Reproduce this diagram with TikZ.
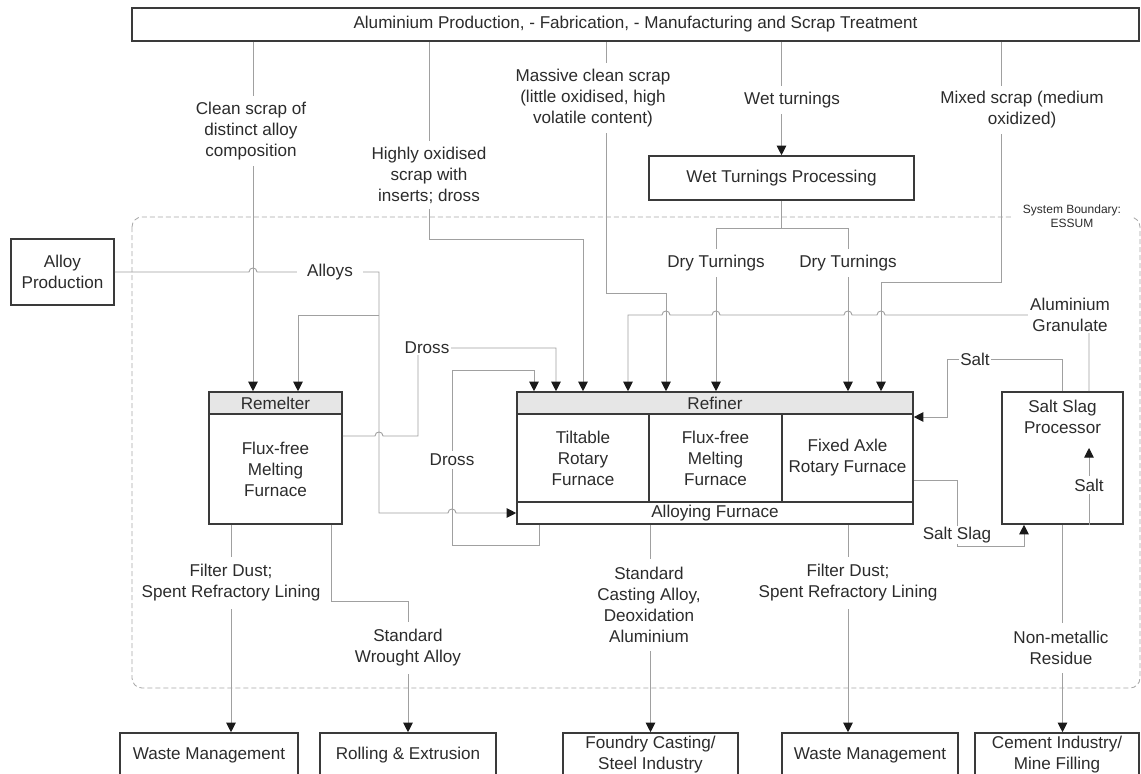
\documentclass[tikz,border=0pt]{standalone}
\usepackage{fontspec}
\setmainfont{Liberation Sans}
\usetikzlibrary{arrows.meta}

\definecolor{txt}{HTML}{2C2C2C}
\definecolor{edgec}{HTML}{3A3A3A}
\definecolor{wirec}{HTML}{A0A0A0}
\definecolor{tipc}{HTML}{1A1A1A}
\definecolor{headfill}{HTML}{E6E6E6}
\definecolor{boundc}{HTML}{A8A8A8}

% line jump over a crossing vertical line (rightwards / leftwards travel)
\newcommand\hopR[2]{-- ({#1-4},{#2}) .. controls ({#1-4},{#2-5.3}) and ({#1+4},{#2-5.3}) .. ({#1+4},{#2})}
\newcommand\hopL[2]{-- ({#1+4},{#2}) .. controls ({#1+4},{#2-5.3}) and ({#1-4},{#2-5.3}) .. ({#1-4},{#2})}

\begin{document}
\begin{tikzpicture}[x=1pt,y=-1pt,
  font=\fontsize{17.1}{21}\selectfont, text=txt,
  box/.style={draw=edgec, line width=1.6pt, fill=white, inner sep=0pt, align=center},
  headbox/.style={box, fill=headfill},
  wire/.style={draw=wirec, line width=0.9pt},
  arr/.style={wire, -{Triangle[length=9.5pt,width=9.5pt,color=tipc]}},
  tag/.style={fill=white, inner xsep=2pt, inner ysep=6pt, align=center},
]
\useasboundingbox (0,0) rectangle (1141,774);
\fill[white] (0,0) rectangle (1141,774);

% system boundary
\draw[boundc, line width=0.85pt, dash pattern=on 5pt off 3pt, rounded corners=10pt]
  (132,217) rectangle (1140,688);

% ---------- boxes ----------
\node[box, minimum width=1007pt, minimum height=33pt] (top) at (635.5,24.5)
  {Aluminium Production, - Fabrication, - Manufacturing and Scrap Treatment};
\node[box, minimum width=265pt, minimum height=44pt] (wtp) at (781.5,178) {Wet Turnings Processing};
\node[box, minimum width=103pt, minimum height=66pt] (alloyprod) at (62.5,272) {Alloy\\Production};

\node[headbox, minimum width=133pt, minimum height=22pt] (remelterhead) at (275.5,403) {Remelter};
\node[box, minimum width=133pt, minimum height=110pt] (remelter) at (275.5,469) {Flux-free\\Melting\\Furnace};

\node[headbox, minimum width=396pt, minimum height=22pt] (refinerhead) at (715,403) {Refiner};
\node[box, minimum width=132pt, minimum height=88pt] (tilt) at (583,458) {Tiltable\\Rotary\\Furnace};
\node[box, minimum width=133pt, minimum height=88pt] (fluxr) at (715.5,458) {Flux-free\\Melting\\Furnace};
\node[box, minimum width=131pt, minimum height=88pt] (fixed) at (847.5,458) {Fixed Axle\\Rotary Furnace};
\node[box, minimum width=396pt, minimum height=22pt] (alloying) at (715,513) {Alloying Furnace};

\node[box, minimum width=121pt, minimum height=132pt] (ssp) at (1062.5,458) {};
\node[align=center] (ssptext) at (1062.5,417) {Salt Slag\\Processor};

\node[box, minimum width=178pt, minimum height=44pt] (wm1) at (209,755) {Waste Management};
\node[box, minimum width=176pt, minimum height=44pt] (roll) at (408,755) {Rolling \& Extrusion};
\node[box, minimum width=175pt, minimum height=44pt] (foundry) at (650.5,755) {Foundry Casting/\\Steel Industry};
\node[box, minimum width=176pt, minimum height=44pt] (wm2) at (870,755) {Waste Management};
\node[box, minimum width=164pt, minimum height=44pt] (cement) at (1057,755) {Cement Industry/\\Mine Filling};

% ---------- column / row references ----------
\coordinate (cA) at (253,0);
\coordinate (cB) at (298,0);
\coordinate (cE) at (429,0);
\coordinate (cG) at (534,0);
\coordinate (cH) at (539,0);
\coordinate (cI) at (556,0);
\coordinate (cJ) at (583,0);
\coordinate (cK) at (606,0);
\coordinate (cL) at (628,0);
\coordinate (cM) at (666,0);
\coordinate (cN) at (716,0);
\coordinate (cP) at (848,0);
\coordinate (cQ) at (881,0);
\coordinate (cR) at (1001,0);
\coordinate (cT) at (1089,0);
\coordinate (cV) at (1024,0);
\coordinate (cW) at (231,0);
\coordinate (cX) at (331,0);
\coordinate (rD) at (0,436);
\coordinate (rS) at (0,417);
\coordinate (rSS) at (0,480);
\coordinate (saltTip) at (1089,448);

% ---------- connectors ----------
% scrap inputs
\draw[arr] (top.south -| cA) -- (remelterhead.north -| cA);
\draw[arr] (top.south -| cE) -- (429,239) -- (583,239) -- (refinerhead.north -| cJ);
\draw[arr] (top.south -| cK) -- (606,293) -- (666,293) -- (refinerhead.north -| cM);
\draw[arr] (top.south -| wtp.north) -- (wtp.north);
\draw[arr] (top.south -| cR) -- (1001,282) -- (881,282) -- (refinerhead.north -| cQ);

% dry turnings
\draw[arr] (wtp.south) -- (781.5,228) -- (716,228) -- (refinerhead.north -| cN);
\draw[arr] (781.5,228) -- (848,228) -- (refinerhead.north -| cP);

% alloys
\draw[arr] (alloyprod.east) \hopR{253}{272} -- (379,272) -- (379,513) \hopR{452}{513} -- (alloying.west);
\draw[arr] (379,315) -- (298,315) -- (remelterhead.north -| cB);

% dross
\draw[arr] (remelter.east |- rD) \hopR{379}{436} -- (418,436) -- (418,348) -- (556,348) -- (refinerhead.north -| cI);
\draw[arr] (alloying.south -| cH) -- (539,545) -- (452,545) -- (452,370) -- (534,370) -- (refinerhead.north -| cG);

% aluminium granulate
\draw[arr] (ssp.north -| cT) -- (1089,315) \hopL{881}{315} \hopL{848}{315} \hopL{716}{315} \hopL{666}{315}
  -- (628,315) -- (refinerhead.north -| cL);

% salt loop
\draw[arr] (ssp.north) -- (1062.5,359) -- (947,359) -- (947,417) -- (fixed.east |- rS);
\draw[arr] (fixed.east |- rSS) -- (957,480) -- (957,546) -- (1024,546) -- (ssp.south -| cV);
\draw[arr] (ssp.south -| cT) -- (saltTip);

% outputs
\draw[arr] (remelter.south -| cW) -- (wm1.north -| cW);
\draw[arr] (remelter.south -| cX) -- (331,601) -- (408,601) -- (roll.north);
\draw[arr] (alloying.south -| foundry.north) -- (foundry.north);
\draw[arr] (alloying.south -| cP) -- (wm2.north -| cP);
\draw[arr] (ssp.south) -- (cement.north -| ssp.south);

% ---------- flow labels ----------
\node[tag] (lclean) at (251,131) {Clean scrap of\\distinct alloy\\composition};
\node[tag] (loxid) at (429,175) {Highly oxidised\\scrap with\\inserts; dross};
\node[tag] (lmassive) at (593,98) {Massive clean scrap\\(little oxidised, high\\volatile content)};
\node[tag] (lwet) at (792,100) {Wet turnings};
\node[tag] (lmixed) at (1022,110) {Mixed scrap (medium\\oxidized)};
\node[tag, inner xsep=10pt] (lalloys) at (330,272) {Alloys};
\node[tag, inner ysep=1pt] (ldross1) at (427,348) {Dross};
\node[tag, inner ysep=3pt] (ldross2) at (452,460) {Dross};
\node[tag] (ldry1) at (716,263) {Dry Turnings};
\node[tag] (ldry2) at (848,263) {Dry Turnings};
\node[tag, inner ysep=1pt] (lgran) at (1070,315) {Aluminium\\Granulate};
\node[tag, inner sep=1.5pt] (lsalt1) at (975,359) {Salt};
\node[tag, inner sep=1pt] (lslag) at (957,535) {Salt Slag};
\node[tag, inner sep=3pt] (lsalt2) at (1089,485) {Salt};
\node[tag, inner ysep=8pt] (lfd1) at (231,583) {Filter Dust;\\Spent Refractory Lining};
\node[tag, inner ysep=8pt] (lwrought) at (408,648) {Standard\\Wrought Alloy};
\node[tag, inner ysep=8pt] (lcast) at (649,605) {Standard\\Casting Alloy,\\Deoxidation\\Aluminium};
\node[tag, inner ysep=8pt] (lfd2) at (848,583) {Filter Dust;\\Spent Refractory Lining};
\node[tag, inner ysep=8pt] (lnonmet) at (1061,648) {Non-metallic\\Residue};
\node[tag, font=\fontsize{12}{14}\selectfont, inner xsep=10pt, inner ysep=1pt] (lbound) at (1072,216)
  {System Boundary:\\ESSUM};
\end{tikzpicture}
\end{document}
